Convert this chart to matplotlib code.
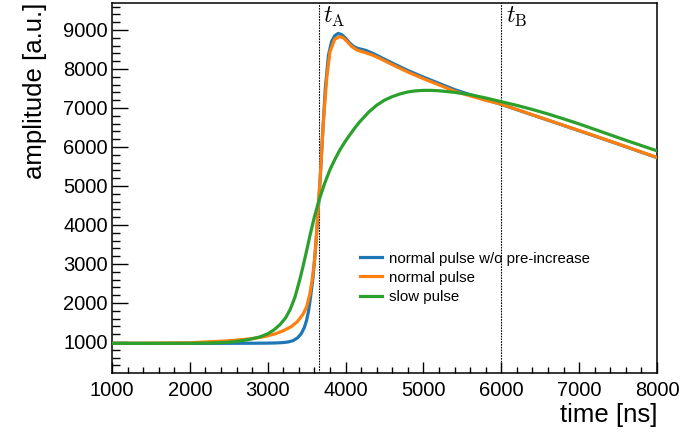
import matplotlib
matplotlib.use("Agg")
import matplotlib.pyplot as plt
from matplotlib.ticker import MultipleLocator

plt.rcParams['font.family'] = ['Liberation Sans', 'DejaVu Sans']
plt.rcParams['mathtext.fontset'] = 'cm'

# ---- data ----
t_blue = [1000, 1500, 2000, 2500, 2800, 3000, 3100, 3200, 3260, 3320, 3380, 3430, 3470,
          3500, 3525, 3550, 3580, 3610, 3640, 3670, 3700, 3740, 3780, 3820, 3860, 3905,
          3950, 4000, 4050, 4100, 4150, 4200, 4260, 4350, 4450, 4600, 4800, 5000, 5200,
          5400, 5600, 5800, 6000, 6400, 6800, 7200, 7600, 8000]
a_blue = [965, 965, 965, 966, 968, 971, 975, 985, 1000, 1030, 1100, 1210, 1370,
          1560, 1800, 2150, 2620, 3300, 4100, 5050, 6150, 7500, 8350, 8700, 8850, 8910,
          8880, 8790, 8670, 8580, 8530, 8505, 8475, 8400, 8300, 8150, 7960, 7790, 7630,
          7470, 7340, 7215, 7090, 6820, 6550, 6280, 6005, 5725]

t_orange = [1000, 1500, 2000, 2500, 2800, 2950, 3100, 3200, 3300, 3380, 3450, 3500,
            3540, 3570, 3600, 3625, 3650, 3680, 3715, 3760, 3800, 3860, 3925, 3975,
            4020, 4080, 4150, 4250, 4350, 4450, 4600, 4800, 5000, 5200, 5400, 5600,
            5800, 6000, 6400, 6800, 7200, 7600, 8000]
a_orange = [965, 970, 980, 1030, 1085, 1135, 1210, 1290, 1390, 1520, 1700, 1900,
            2220, 2580, 3050, 3700, 4500, 5400, 6650, 7800, 8440, 8760, 8830, 8790,
            8700, 8570, 8480, 8420, 8350, 8260, 8110, 7920, 7750, 7590, 7430, 7310,
            7195, 7095, 6825, 6555, 6285, 6010, 5730]

t_green = [1000, 1500, 2000, 2300, 2550, 2750, 2900, 3000, 3080, 3160, 3230, 3290,
           3350, 3415, 3450, 3500, 3545, 3600, 3660, 3730, 3800, 3870, 3930, 4000,
           4060, 4120, 4180, 4300, 4400, 4500, 4600, 4700, 4800, 4900, 5000, 5100, 5200,
           5400, 5600, 5800, 6000, 6200, 6400, 6600, 6800, 7000, 7200, 7400, 7600,
           7800, 8000]
a_green = [965, 965, 967, 975, 1000, 1060, 1130, 1210, 1310, 1450, 1620, 1840,
           2150, 2620, 2910, 3340, 3750, 4210, 4640, 5060, 5420, 5710, 5935, 6155,
           6325, 6490, 6640, 6900, 7070, 7200, 7290, 7360, 7410, 7438, 7450, 7450, 7440,
           7400, 7340, 7255, 7160, 7065, 6960, 6845, 6720, 6590, 6450, 6310, 6170,
           6035, 5900]

t_A = 3660
t_B = 6000
labels = ["normal pulse w/o pre-increase", "normal pulse", "slow pulse"]
colors = ["#1f77b4", "#ff7f0e", "#2ca02c"]

fig = plt.figure(figsize=(6.81, 4.37), dpi=100)
ax = fig.add_axes([112/681, 1-373/437, 545/681, 370/437])

ax.plot(t_blue, a_blue, color=colors[0], lw=2.3, label=labels[0], zorder=3)
ax.plot(t_orange, a_orange, color=colors[1], lw=2.3, label=labels[1], zorder=4)
ax.plot(t_green, a_green, color=colors[2], lw=2.3, label=labels[2], zorder=5)

for tv, name in [(t_A, r'$t_{\rm A}$'), (t_B, r'$t_{\rm B}$')]:
    ax.axvline(tv, color='black', lw=0.8, ls=(0, (1.5, 1.0)), zorder=2)
    ax.text(tv + 55, 9650, name, fontsize=17, va='top', ha='left')

ax.set_xlim(1000, 8000)
ax.set_ylim(205, 9690)
ax.xaxis.set_major_locator(MultipleLocator(1000))
ax.xaxis.set_minor_locator(MultipleLocator(200))
ax.yaxis.set_major_locator(MultipleLocator(1000))
ax.yaxis.set_minor_locator(MultipleLocator(200))
ax.tick_params(axis='both', which='both', direction='in', top=False, right=False,
               labelsize=14.5, width=1.0)
ax.tick_params(axis='x', which='major', length=8, pad=6)
ax.tick_params(axis='x', which='minor', length=4)
ax.tick_params(axis='y', which='major', length=11.5, pad=3)
ax.tick_params(axis='y', which='minor', length=5.8)
for s in ax.spines.values():
    s.set_linewidth(1.1)

ax.set_xlabel("time [ns]", fontsize=18.5, loc='right', labelpad=2)
ax.set_ylabel("amplitude [a.u.]", fontsize=18.5, loc='top', labelpad=12)

ax.legend(loc='upper left', bbox_to_anchor=(0.455, 0.328), frameon=False,
          fontsize=10.8, handlelength=1.5, handletextpad=0.45, labelspacing=0.34,
          borderpad=0, borderaxespad=0)

fig.savefig("out.png", dpi=100)
